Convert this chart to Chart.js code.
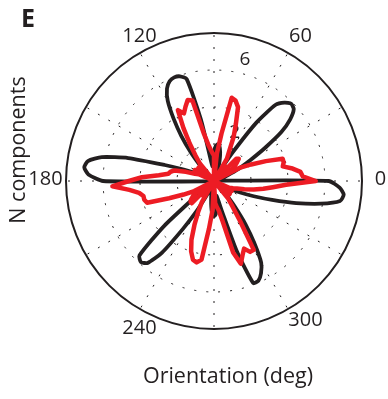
<!DOCTYPE html>
<html><head><meta charset="utf-8">
<script src="https://cdn.jsdelivr.net/npm/chart.js@4/dist/chart.umd.min.js"></script>
<style>html,body{margin:0;padding:0;background:#fff}#wrap{width:388px;height:399px;position:relative}</style>
</head><body><div id="wrap"><canvas id="c" width="388" height="399"></canvas></div>
<script>
// Orientation bins (deg, counter-clockwise from east)
const angleDeg = [0,3,6,9,12,15,18,21,24,27,30,33,36,39,42,45,48,51,54,57,60,63,66,69,72,75,78,81,84,87,
  90,93,96,99,102,105,108,111,114,117,120,123,126,129,132,135,138,141,144,147,150,153,156,159,162,165,168,171,174,177,
  180,183,186,189,192,195,198,201,204,207,210,213,216,219,222,225,228,231,234,237,240,243,246,249,252,255,258,261,264,267,
  270,273,276,279,282,285,288,291,294,297,300,303,306,309,312,315,318,321,324,327,330,333,336,339,342,345,348,351,354,357];
// Black series: N components per orientation
const blackCounts = [6.2,0.3,0.2,0.2,0.2,0.25,0.35,0.6,1.0,1.6,2.3,3.3,4.5,5.3,5.8,5.9,5.7,5.3,3.9,1.8,
  0.6,0.3,0.3,0.5,0.8,1.2,1.6,1.9,2.0,1.9,1.6,1.0,0.8,1.2,3.4,5.7,5.95,6.0,5.9,5.6,
  5.0,4.0,3.0,2.0,1.1,0.5,0.3,0.2,0.2,0.2,0.3,0.5,1.0,1.7,2.8,4.8,6.2,6.9,7.05,6.8,
  6.0,0.4,0.2,0.2,0.2,0.2,0.2,0.2,0.2,0.2,0.2,0.25,0.4,0.9,3.6,5.7,5.9,5.7,4.8,3.1,
  1.9,0.9,0.4,0.3,0.3,0.5,0.7,1.0,1.4,1.8,1.9,1.8,1.2,0.8,1.0,1.8,4.0,5.9,5.9,5.6,
  5.1,4.0,2.9,1.8,1.0,0.5,0.3,0.2,0.2,0.3,0.5,0.9,1.5,2.3,3.3,4.6,5.9,6.9,7.05,6.8];
// Red series: N components per orientation (angular histogram)
const redCounts = [5.5,4.8,4.7,4.3,3.8,3.9,3.9,3.0,2.2,1.6,0,1.2,1.4,1.6,1.8,1.7,0,0.9,1.0,0,
  1.4,1.8,2.6,3.3,4.2,4.5,4.6,2.6,1.5,0,1.4,1.5,1.7,2.0,2.6,4.5,4.6,4.3,4.0,4.3,
  3.3,2.4,1.7,1.2,0,1.0,1.1,1.1,0,1.1,1.2,0,0.9,1.1,1.6,2.2,2.4,2.5,3.0,3.9,
  4.6,5.5,4.6,4.1,3.9,3.9,3.8,2.6,1.8,1.2,0,1.2,1.4,1.6,1.7,1.7,0,0.9,1.0,0,
  1.3,1.9,2.6,3.4,4.0,4.4,4.5,4.3,2.6,1.6,0,1.2,1.4,1.6,2.2,4.0,4.7,4.3,4.0,4.3,
  4.3,2.6,1.7,1.2,0,1.0,1.1,1.1,0,1.0,1.1,0,0.9,1.1,1.3,1.7,2.2,2.7,3.2,3.9];
const radialTicks = [2,6];
const angleTickLabels = ['0','60','120','180','240','300'];
const xTitle = 'Orientation (deg)';
const yTitle = 'N components';
const panelLetter = 'E';

// radar goes clockwise; reverse order so angles increase counter-clockwise
const N = angleDeg.length;
const order = angleDeg.map((_, i) => (N - i) % N);
const labels = order.map(k => angleDeg[k]);
const blackData = order.map(k => blackCounts[k]);
const redData = order.map(k => redCounts[k]);

const INK = '#231f20';
const FONT = '"Open Sans", "Noto Sans", sans-serif';

const textPlugin = {
  id: 'polarTexts',
  beforeDatasetsDraw(chart) {
    const s = chart.scales.r, ctx = chart.ctx;
    ctx.save();
    ctx.font = '19px ' + FONT;
    ctx.fillStyle = INK;
    ctx.textAlign = 'left';
    ctx.textBaseline = 'bottom';
    const a = 82 * Math.PI / 180;
    radialTicks.forEach(v => {
      const d = s.getDistanceFromCenterForValue(v + 0.1);
      ctx.fillText('  ' + v, s.xCenter + d * Math.cos(a), s.yCenter - d * Math.sin(a));
    });
    ctx.restore();
  },
  afterDraw(chart) {
    const s = chart.scales.r, ctx = chart.ctx;
    const cx = s.xCenter, cy = s.yCenter;
    ctx.save();
    ctx.fillStyle = INK;
    ctx.textAlign = 'center';
    ctx.textBaseline = 'middle';
    ctx.font = '20px ' + FONT;
    const offs = [[166.5,-1.5],[86.5,-145],[-74.5,-145],[-168.5,-1.5],[-74.5,147],[91.5,139.5]];
    angleTickLabels.forEach((t, i) => ctx.fillText(t, cx + offs[i][0], cy + offs[i][1]));
    ctx.font = '21.5px ' + FONT;
    ctx.fillText(xTitle, 228, 377);
    ctx.save();
    ctx.translate(19, 150);
    ctx.rotate(-Math.PI / 2);
    ctx.fillText(yTitle, 0, 0);
    ctx.restore();
    ctx.font = 'bold 25px ' + FONT;
    ctx.textAlign = 'left';
    ctx.fillText(panelLetter, 21, 20);
    ctx.restore();
  }
};

new Chart(document.getElementById('c'), {
  type: 'radar',
  data: {
    labels: labels,
    datasets: [
      { label: 'red', data: redData, borderColor: '#ed1c24', borderWidth: 4.5, fill: false, tension: 0, pointRadius: 0 },
      { label: 'black', data: blackData, borderColor: INK, borderWidth: 3.8, fill: false, tension: 0.2, pointRadius: 0 }
    ]
  },
  options: {
    responsive: false,
    animation: false,
    layout: { padding: { left: 66, right: 26, top: 33, bottom: 70 } },
    plugins: { legend: { display: false }, tooltip: { enabled: false } },
    elements: { point: { radius: 0 }, line: { borderJoinStyle: 'round', borderCapStyle: 'round' } },
    scales: {
      r: {
        min: 0, max: 8, startAngle: 90,
        ticks: { display: false, stepSize: 2 },
        pointLabels: { display: false },
        grid: { circular: true, color: INK, lineWidth: c => (c.tick && c.tick.value === 8) ? 2 : 1 },
        border: { dash: c => (c.tick && c.tick.value === 8) ? [] : [2, 10] },
        angleLines: { display: true, color: INK, lineWidth: c => (c.index % 10 === 0) ? 1 : 0, borderDash: [2, 10] }
      }
    }
  },
  plugins: [textPlugin]
});
</script></body></html>
